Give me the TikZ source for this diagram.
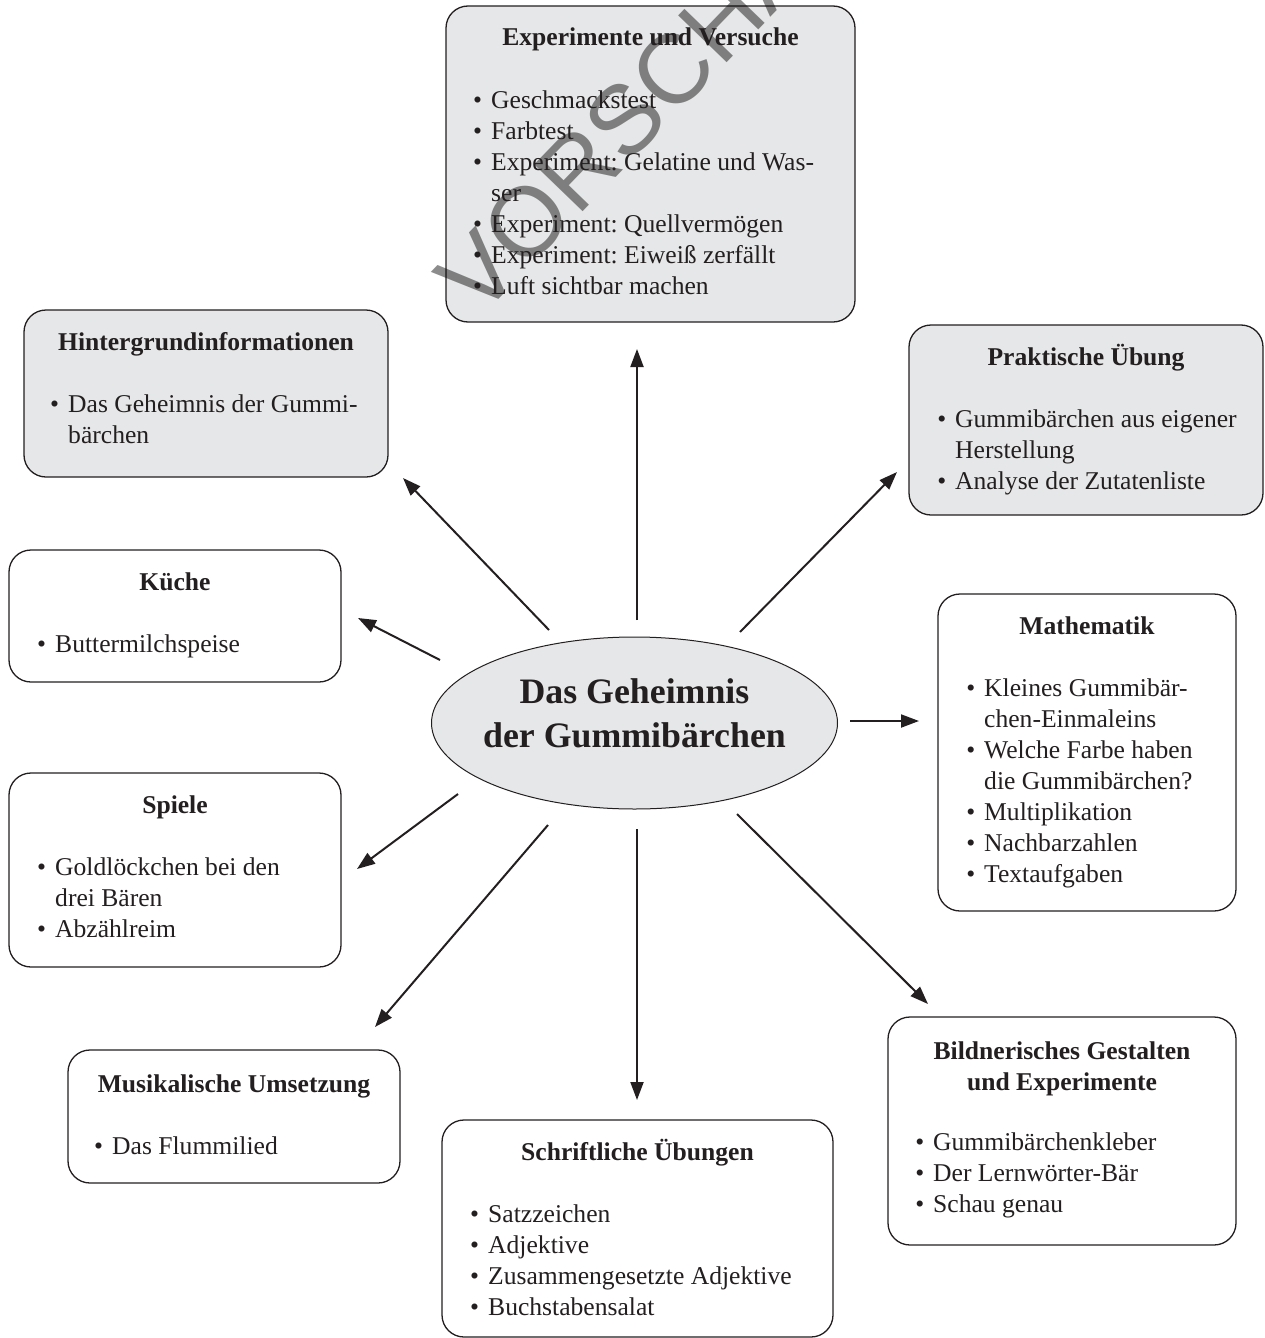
\documentclass[tikz,border=0pt]{standalone}
\usepackage{fontspec}
\setmainfont{Liberation Serif}
\newfontfamily\wmfont{Liberation Sans}
\usetikzlibrary{arrows.meta,shapes.geometric,fit}
\definecolor{ink}{RGB}{35,31,32}
\definecolor{boxgray}{RGB}{230,231,232}
\frenchspacing
\newcommand\boxfont{\fontsize{25.6pt}{31pt}\selectfont}
\newcommand\itm[1]{\makebox[0pt][r]{\textbullet\hspace{9pt}}#1}
\newcommand\lstbox[1]{\parbox[t]{340pt}{\raggedright #1}}
\newcommand\ctrbox[1]{\parbox[t]{400pt}{\centering #1}}
\begin{document}
\begin{tikzpicture}[x=1pt,y=-1pt,
  boxbase/.style={draw=ink, line width=1.3pt, rounded corners=22pt, inner sep=0pt},
  gbox/.style={boxbase, fill=boxgray},
  wbox/.style={boxbase, fill=white},
  ttl/.style={anchor=base, inner sep=0pt, font=\boxfont\bfseries, text=ink},
  lst/.style={anchor=base west, inner sep=0pt, font=\boxfont, text=ink},
  arr/.style={draw=ink, line width=2pt, -{Triangle[length=18pt,width=13pt]}}
]
\useasboundingbox (0,0) rectangle (1264,1338);

% boxes
\node[gbox, fit={(446,6) (855,322)}] (exp) {};
\node[gbox, fit={(24,310) (388,477)}] (hint) {};
\node[gbox, fit={(909,325) (1263,515)}] (prak) {};
\node[wbox, fit={(9,550) (341,682)}] (kue) {};
\node[wbox, fit={(938,594) (1236,911)}] (math) {};
\node[wbox, fit={(9,773) (341,967)}] (spiel) {};
\node[wbox, fit={(68,1050) (400,1183)}] (musik) {};
\node[wbox, fit={(442,1120) (833,1337)}] (schrift) {};
\node[wbox, fit={(888,1017) (1236,1245)}] (bild) {};

% centre
\node[ellipse, draw=ink, line width=1pt, fill=boxgray, minimum width=406pt, minimum height=172pt, inner sep=0pt] (hub) at (634.5,723) {};

% watermark
\node[rotate=46, font=\wmfont\fontsize{98pt}{98pt}\selectfont, text=black, opacity=0.45, inner sep=0pt] (wm) at (648,96) {VORSCHAU};

% centre text
\node[anchor=base, inner sep=0pt, text=ink, font=\fontsize{35.8pt}{44pt}\selectfont\bfseries] (hubT) at (634.5,703) {\ctrbox{Das Geheimnis\\der Gummibärchen}};

% titles
\node[ttl] (expT) at (650.5,46) {Experimente und Versuche};
\node[ttl] (hintT) at (206,350) {Hintergrundinformationen};
\node[ttl] (prakT) at (1086,365) {Praktische Übung};
\node[ttl] (kueT) at (175,590) {Küche};
\node[ttl] (mathT) at (1087,634) {Mathematik};
\node[ttl] (spielT) at (175,813) {Spiele};
\node[ttl] (musikT) at (234,1092) {Musikalische Umsetzung};
\node[ttl] (schriftT) at (637.5,1160) {Schriftliche Übungen};
\node[ttl] (bildT) at (1062,1059) {\ctrbox{Bildnerisches Gestalten\\und Experimente}};

% lists
\node[lst] (expL) at (491,108) {\lstbox{\itm{Geschmackstest}\\\itm{Farbtest}\\\itm{Experiment: Gelatine und Was-}\\ser\\\itm{Experiment: Quellvermögen}\\\itm{Experiment: Eiweiß zerfällt}\\\itm{Luft sichtbar machen}}};
\node[lst] (hintL) at (68,412) {\lstbox{\itm{Das Geheimnis der Gummi-}\\bärchen}};
\node[lst] (prakL) at (955,427) {\lstbox{\itm{Gummibärchen aus eigener}\\Herstellung\\\itm{Analyse der Zutatenliste}}};
\node[lst] (kueL) at (55,652) {\lstbox{\itm{Buttermilchspeise}}};
\node[lst] (mathL) at (984,696) {\lstbox{\itm{Kleines Gummibär-}\\chen-Einmaleins\\\itm{Welche Farbe haben}\\die Gummibärchen?\\\itm{Multiplikation}\\\itm{Nachbarzahlen}\\\itm{Textaufgaben}}};
\node[lst] (spielL) at (55,875) {\lstbox{\itm{Goldlöckchen bei den}\\drei Bären\\\itm{Abzählreim}}};
\node[lst] (musikL) at (112,1154) {\lstbox{\itm{Das Flummilied}}};
\node[lst] (schriftL) at (488,1222) {\lstbox{\itm{Satzzeichen}\\\itm{Adjektive}\\\itm{Zusammengesetzte Adjektive}\\\itm{Buchstabensalat}}};
\node[lst] (bildL) at (933,1150) {\lstbox{\itm{Gummibärchenkleber}\\\itm{Der Lernwörter-Bär}\\\itm{Schau genau}}};

% arrow ends
\coordinate (uS) at (637,620);  \coordinate (uE) at (637,349);
\coordinate (hS) at (549,630);  \coordinate (hE) at (403,478);
\coordinate (pS) at (740,632);  \coordinate (pE) at (897,472);
\coordinate (kS) at (440,660);  \coordinate (kE) at (358,618);
\coordinate (mS) at (850,721);  \coordinate (mE) at (919,721);
\coordinate (sS) at (458,794);  \coordinate (sE) at (357,869);
\coordinate (muS) at (548,825); \coordinate (muE) at (375,1027);
\coordinate (dS) at (637,829);  \coordinate (dE) at (637,1100);
\coordinate (bS) at (737,814);  \coordinate (bE) at (928,1004);

\draw[arr] (uS) -- (uE);
\draw[arr] (hS) -- (hE);
\draw[arr] (pS) -- (pE);
\draw[arr] (kS) -- (kE);
\draw[arr] (mS) -- (mE);
\draw[arr] (sS) -- (sE);
\draw[arr] (muS) -- (muE);
\draw[arr] (dS) -- (dE);
\draw[arr] (bS) -- (bE);
\end{tikzpicture}
\end{document}
